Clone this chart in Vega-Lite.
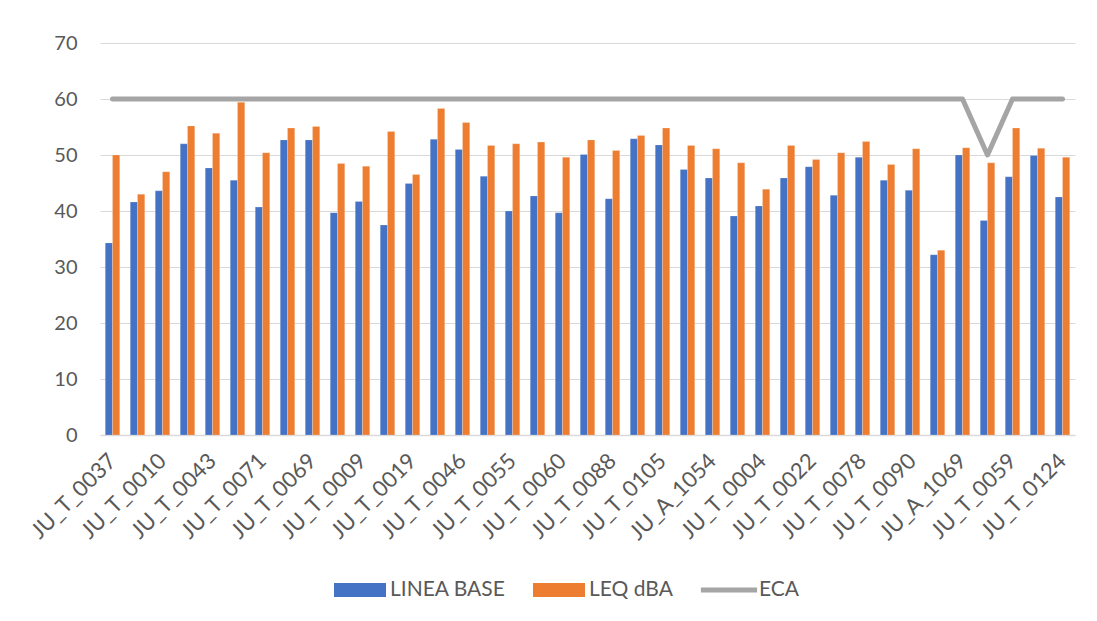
{
  "$schema": "https://vega.github.io/schema/vega-lite/v6.json",
  "width": 975,
  "height": 392,
  "autosize": "none",
  "padding": {"left": 100, "top": 43, "right": 22, "bottom": 186},
  "background": "white",
  "config": {
    "view": {"stroke": null},
    "font": "Lato",
    "axis": {"labelFont": "Lato", "labelColor": "#595959", "labelFontSize": 20},
    "legend": {"labelFont": "Lato"}
  },
  "data": {
    "values": [
      {"id": "JU_T_0037", "LINEA BASE": 34.3, "LEQ dBA": 50.0, "ECA": 60},
      {"id": "JU_T_0036", "LINEA BASE": 41.6, "LEQ dBA": 43.0, "ECA": 60},
      {"id": "JU_T_0010", "LINEA BASE": 43.6, "LEQ dBA": 47.0, "ECA": 60},
      {"id": "JU_T_0042", "LINEA BASE": 52.0, "LEQ dBA": 55.2, "ECA": 60},
      {"id": "JU_T_0043", "LINEA BASE": 47.7, "LEQ dBA": 53.9, "ECA": 60},
      {"id": "JU_T_0070", "LINEA BASE": 45.5, "LEQ dBA": 59.4, "ECA": 60},
      {"id": "JU_T_0071", "LINEA BASE": 40.7, "LEQ dBA": 50.4, "ECA": 60},
      {"id": "JU_T_0068", "LINEA BASE": 52.7, "LEQ dBA": 54.8, "ECA": 60},
      {"id": "JU_T_0069", "LINEA BASE": 52.7, "LEQ dBA": 55.1, "ECA": 60},
      {"id": "JU_T_0008", "LINEA BASE": 39.7, "LEQ dBA": 48.5, "ECA": 60},
      {"id": "JU_T_0009", "LINEA BASE": 41.7, "LEQ dBA": 48.0, "ECA": 60},
      {"id": "JU_T_0018", "LINEA BASE": 37.5, "LEQ dBA": 54.2, "ECA": 60},
      {"id": "JU_T_0019", "LINEA BASE": 44.9, "LEQ dBA": 46.5, "ECA": 60},
      {"id": "JU_T_0045", "LINEA BASE": 52.8, "LEQ dBA": 58.3, "ECA": 60},
      {"id": "JU_T_0046", "LINEA BASE": 51.0, "LEQ dBA": 55.8, "ECA": 60},
      {"id": "JU_T_0054", "LINEA BASE": 46.2, "LEQ dBA": 51.7, "ECA": 60},
      {"id": "JU_T_0055", "LINEA BASE": 40.0, "LEQ dBA": 52.0, "ECA": 60},
      {"id": "JU_T_0057", "LINEA BASE": 42.7, "LEQ dBA": 52.3, "ECA": 60},
      {"id": "JU_T_0060", "LINEA BASE": 39.7, "LEQ dBA": 49.6, "ECA": 60},
      {"id": "JU_T_0061", "LINEA BASE": 50.1, "LEQ dBA": 52.7, "ECA": 60},
      {"id": "JU_T_0088", "LINEA BASE": 42.2, "LEQ dBA": 50.8, "ECA": 60},
      {"id": "JU_T_0089", "LINEA BASE": 52.9, "LEQ dBA": 53.5, "ECA": 60},
      {"id": "JU_T_0105", "LINEA BASE": 51.8, "LEQ dBA": 54.8, "ECA": 60},
      {"id": "JU_T_0106", "LINEA BASE": 47.4, "LEQ dBA": 51.7, "ECA": 60},
      {"id": "JU_A_1054", "LINEA BASE": 45.9, "LEQ dBA": 51.1, "ECA": 60},
      {"id": "JU_A_1055", "LINEA BASE": 39.1, "LEQ dBA": 48.6, "ECA": 60},
      {"id": "JU_T_0004", "LINEA BASE": 40.9, "LEQ dBA": 43.9, "ECA": 60},
      {"id": "JU_T_0005", "LINEA BASE": 45.9, "LEQ dBA": 51.7, "ECA": 60},
      {"id": "JU_T_0022", "LINEA BASE": 47.9, "LEQ dBA": 49.2, "ECA": 60},
      {"id": "JU_T_0023", "LINEA BASE": 42.8, "LEQ dBA": 50.4, "ECA": 60},
      {"id": "JU_T_0078", "LINEA BASE": 49.6, "LEQ dBA": 52.4, "ECA": 60},
      {"id": "JU_T_0079", "LINEA BASE": 45.5, "LEQ dBA": 48.3, "ECA": 60},
      {"id": "JU_T_0090", "LINEA BASE": 43.7, "LEQ dBA": 51.1, "ECA": 60},
      {"id": "JU_T_0091", "LINEA BASE": 32.2, "LEQ dBA": 33.0, "ECA": 60},
      {"id": "JU_A_1069", "LINEA BASE": 50.0, "LEQ dBA": 51.3, "ECA": 60},
      {"id": "JU_A_1070", "LINEA BASE": 38.3, "LEQ dBA": 48.6, "ECA": 50},
      {"id": "JU_T_0059", "LINEA BASE": 46.1, "LEQ dBA": 54.8, "ECA": 60},
      {"id": "JU_T_0123", "LINEA BASE": 49.9, "LEQ dBA": 51.2, "ECA": 60},
      {"id": "JU_T_0124", "LINEA BASE": 42.5, "LEQ dBA": 49.6, "ECA": 60}
    ]
  },
  "transform": [
    {"fold": ["LINEA BASE", "LEQ dBA", "ECA"], "as": ["series", "value"]}
  ],
  "encoding": {
    "x": {
      "field": "id",
      "type": "nominal",
      "sort": null,
      "scale": {"paddingInner": 0.42, "paddingOuter": 0.21},
      "axis": {
        "title": null,
        "values": ["JU_T_0037","JU_T_0010","JU_T_0043","JU_T_0071","JU_T_0069","JU_T_0009","JU_T_0019","JU_T_0046","JU_T_0055","JU_T_0060","JU_T_0088","JU_T_0105","JU_A_1054","JU_T_0004","JU_T_0022","JU_T_0078","JU_T_0090","JU_A_1069","JU_T_0059","JU_T_0124"],
        "labelAngle": -45,
        "labelAlign": "right",
        "labelBaseline": "middle",
        "labelPadding": 22,
        "labelFontSize": 22,
        "ticks": false,
        "domain": true,
        "domainColor": "#D9D9D9",
        "domainWidth": 1.5,
        "labelOverlap": false
      }
    },
    "y": {
      "field": "value",
      "type": "quantitative",
      "scale": {"domain": [0, 70], "nice": false},
      "axis": {
        "title": null,
        "values": [0, 10, 20, 30, 40, 50, 60, 70],
        "domain": false,
        "ticks": false,
        "grid": true,
        "gridColor": "#D9D9D9",
        "gridWidth": 1.2,
        "labelPadding": 23
      }
    },
    "color": {
      "field": "series",
      "type": "nominal",
      "scale": {
        "domain": ["LINEA BASE", "LEQ dBA", "ECA"],
        "range": ["#4472C4", "#ED7D31", "#A5A5A5"]
      },
      "legend": {
        "title": null,
        "orient": "none",
        "legendX": 234,
        "legendY": 521,
        "direction": "horizontal",
        "columns": 3,
        "columnPadding": 27,
        "labelOffset": 4,
        "labelFontSize": 21,
        "labelColor": "#595959",
        "symbolType": "M-1,-0.27L1,-0.27L1,0.27L-1,0.27Z",
        "symbolSize": 2704,
        "symbolStrokeWidth": 0,
        "symbolOpacity": 1,
        "encode": {
          "symbols": {
            "update": {
              "shape": {"signal": "datum.value === 'ECA' ? 'M-1.08,-0.1L1.08,-0.1L1.08,0.1L-1.08,0.1Z' : 'M-1,-0.27L1,-0.27L1,0.27L-1,0.27Z'"},
              "fill": {"scale": "color", "field": "value"},
              "strokeWidth": {"value": 0},
              "opacity": {"value": 1}
            }
          }
        }
      }
    }
  },
  "layer": [
    {
      "transform": [{"filter": "datum.series !== 'ECA'"}],
      "mark": {"type": "bar", "stroke": "white", "strokeWidth": 0.4, "strokeOpacity": 0.5},
      "encoding": {
        "xOffset": {
          "field": "series",
          "type": "nominal",
          "scale": {"domain": ["LINEA BASE", "LEQ dBA"], "paddingInner": 0, "paddingOuter": 0}
        }
      }
    },
    {
      "transform": [{"filter": "datum.series === 'ECA'"}],
      "mark": {"type": "line", "strokeWidth": 5, "strokeCap": "round", "strokeJoin": "round"},
      "encoding": {}
    }
  ]
}
